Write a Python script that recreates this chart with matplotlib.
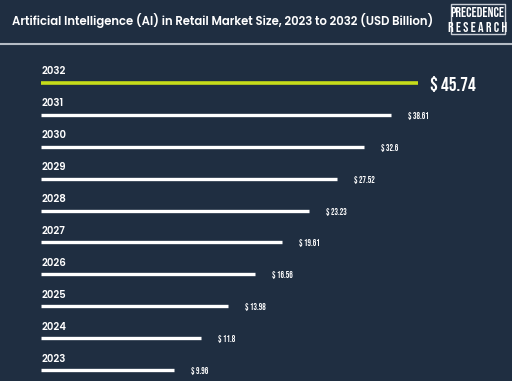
import numpy as np
import matplotlib.pyplot as plt
from matplotlib.patches import Rectangle

years = ['2023', '2024', '2025', '2026', '2027', '2028', '2029', '2030', '2031', '2032']
values = [9.96, 11.8, 13.98, 16.56, 19.61, 23.23, 27.52, 32.6, 38.61, 45.74]
value_labels = ['$ 9.96', '$ 11.8', '$ 13.98', '$ 16.56', '$ 19.61',
                '$ 23.23', '$ 27.52', '$ 32.6', '$ 38.61', '$ 45.74']

bg = '#1f2e41'
lime = '#c6dc1a'
narrow = ['Bebas Neue', 'Barlow Condensed', 'DejaVu Sans']
wide = ['Poppins', 'Lato', 'DejaVu Sans']

W, H = 512, 381
fig = plt.figure(figsize=(W / 100, H / 100), dpi=100, facecolor=bg)

# axes: bars start at pixel 41, log scale (bars step evenly in the picture)
x0, x1 = 41, 500
ax = fig.add_axes([x0 / W, 0, (x1 - x0) / W, 1])
ax.set_facecolor(bg)
ax.set_xscale('log')
xmin = 4.34
px_per_ln = 160.0
xmax = np.exp(np.log(xmin) + (x1 - x0) / px_per_ln)
ax.set_xlim(xmin, xmax)
row_px = 31.9
ax.set_ylim(-(H - 370) / row_px, 370 / row_px)
ax.axis('off')

for i, (yr, v, lab) in enumerate(zip(years, values, value_labels)):
    last = i == len(years) - 1
    col = lime if last else 'white'
    ax.hlines(i, xmin, v, color=col, lw=2.6 if last else 2.4, capstyle='butt')
    ax.text(xmin * np.exp(0.5 / px_per_ln), i + 11 / row_px, yr, color='white',
            fontsize=7.3, fontweight='semibold', va='center', ha='left', family=wide)
    if last:
        ax.annotate(lab, (v, i), xytext=(12, -1), textcoords='offset pixels',
                    color='white', fontsize=14, fontweight='bold', va='center',
                    ha='left', family=narrow)
    else:
        ax.annotate(lab, (v, i), xytext=(17, -1), textcoords='offset pixels',
                    color='white', fontsize=6.3, fontweight='bold', va='center',
                    ha='left', family=narrow)

# header
fig.text(12 / W, 1 - 20 / H,
         'Artificial Intelligence (AI) in Retail Market Size, 2023 to 2032 (USD Billion)',
         color='white', fontsize=8.4, fontweight='semibold', va='center', ha='left',
         family=wide)
fig.add_artist(plt.Line2D([0, 1], [1 - 44 / H, 1 - 44 / H], color='#b5bcc5', lw=1.5,
                          transform=fig.transFigure))

# logo box
fig.add_artist(Rectangle((450.5 / W, 1 - 33.5 / H), 54 / W, 29.5 / H, transform=fig.transFigure,
                         fill=False, edgecolor='#c9ced6', lw=1.0))
fig.text(477.5 / W, 1 - 12 / H, 'PRECEDENCE', color='white', fontsize=10, fontweight='bold',
         ha='center', va='center', family=narrow)
fig.text(477.5 / W, 1 - 26.5 / H, 'R E S E A R C H', color='white', fontsize=10,
         fontweight='bold', ha='center', va='center', family=narrow)

fig.savefig('out.png', dpi=100, facecolor=bg)
